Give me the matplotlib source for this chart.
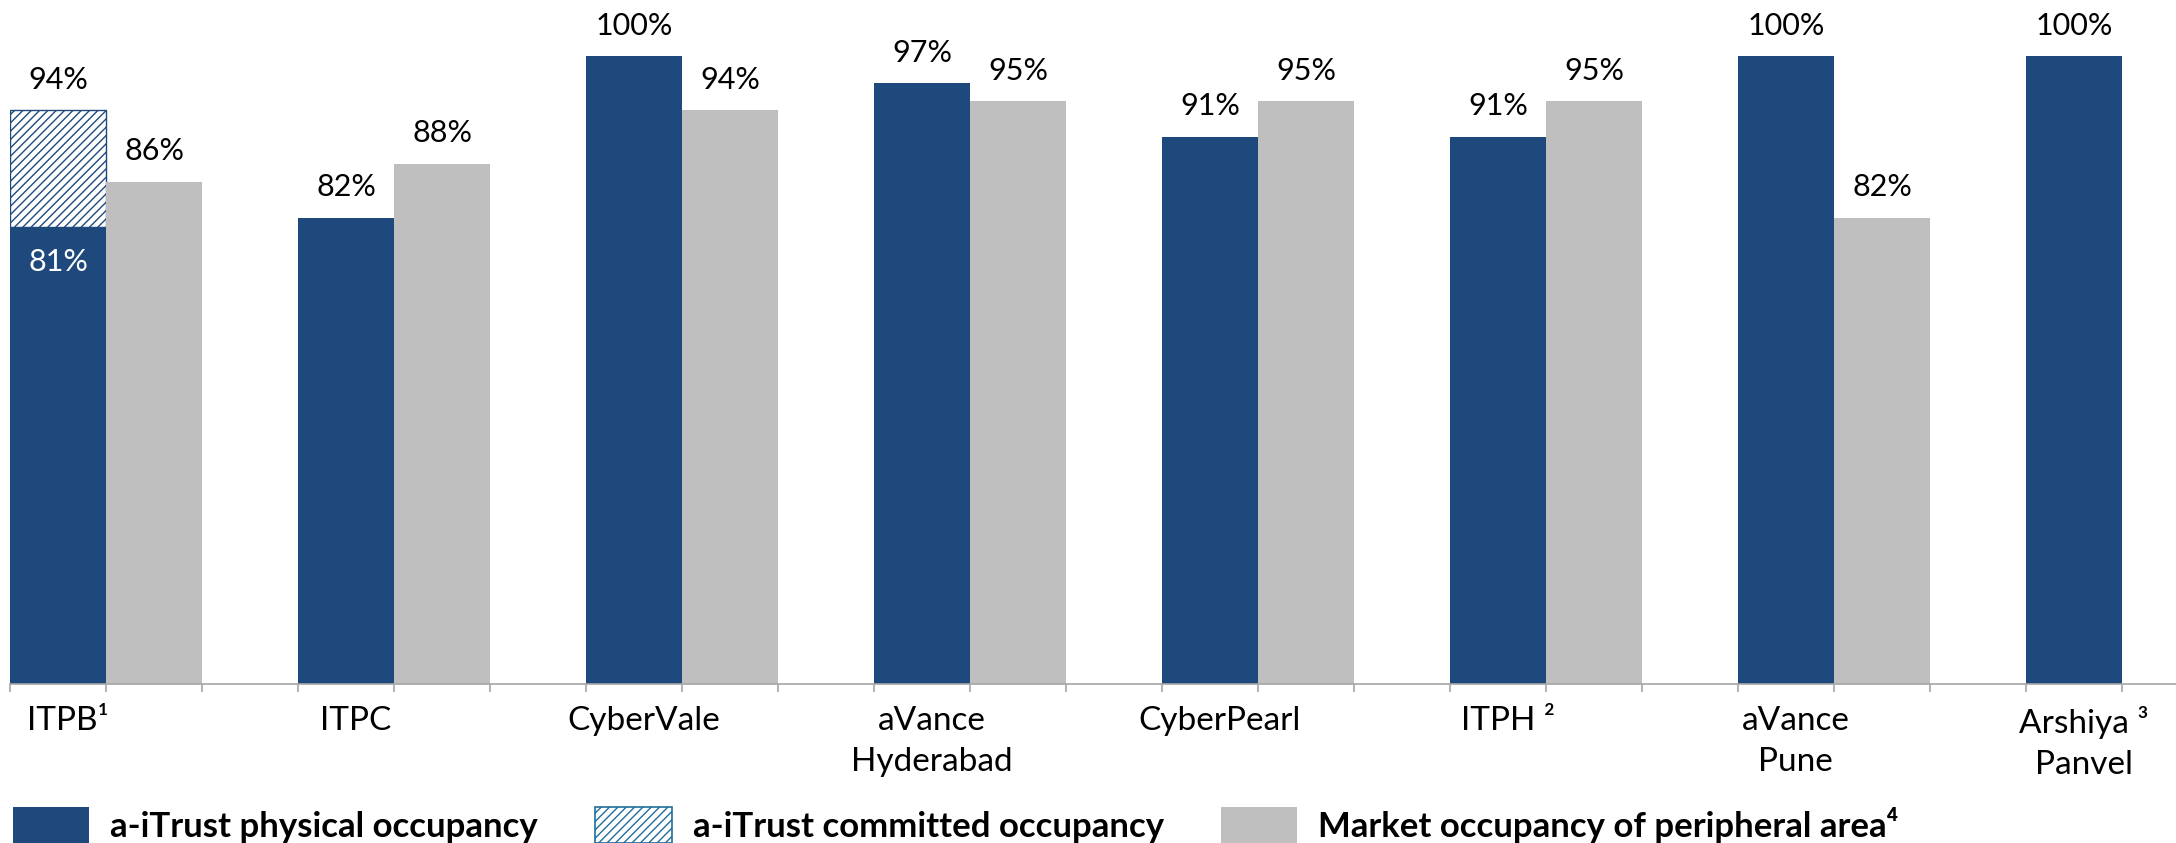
import numpy as np
import matplotlib
matplotlib.use('Agg')
import matplotlib.pyplot as plt
from matplotlib.patches import Patch

categories = ['ITPB¹', 'ITPC', 'CyberVale', 'aVance\nHyderabad', 'CyberPearl',
              'ITPH ²', 'aVance\nPune', 'Arshiya ³\nPanvel']
physical = [81, 82, 100, 97, 91, 91, 100, 100]
committed = [94, np.nan, np.nan, np.nan, np.nan, np.nan, np.nan, np.nan]
market = [86, 88, 94, 95, 95, 95, 82, np.nan]
legend_labels = ['a-iTrust physical occupancy', 'a-iTrust committed occupancy',
                 'Market occupancy of peripheral area⁴']

BLUE = '#1F497D'
GREY = '#BFBFBF'
plt.rcParams['font.family'] = ['Lato', 'DejaVu Sans']
plt.rcParams['hatch.linewidth'] = 1.0
plt.rcParams['hatch.color'] = BLUE

fig = plt.figure(figsize=(21.76, 8.43), dpi=100)
ax = fig.add_axes([10 / 2176, 159 / 843, 1 - 10 / 2176, 684 / 843])

x = np.arange(len(categories)) * 3
ax.bar(x, physical, width=1, align='edge', color=BLUE)
base = [p if not np.isnan(c) else 0 for p, c in zip(physical, committed)]
comm_h = [c - p if not np.isnan(c) else 0 for p, c in zip(physical, committed)]
ax.bar(x, comm_h, bottom=base, width=1, align='edge', facecolor='white',
       edgecolor=BLUE, hatch='////', linewidth=1.0)
ax.bar(x + 1, market, width=1, align='edge', color=GREY)

fs = 22
for xi, p, c in zip(x, physical, committed):
    if np.isnan(c):
        ax.annotate(f'{p}%', (xi + 0.5, p), xytext=(0, 12), textcoords='offset points',
                    ha='center', va='bottom', fontsize=fs)
    else:
        ax.annotate(f'{p}%', (xi + 0.5, p), xytext=(0, -15), textcoords='offset points',
                    ha='center', va='top', fontsize=fs, color='white')
        ax.annotate(f'{c:.0f}%', (xi + 0.5, c), xytext=(0, 12), textcoords='offset points',
                    ha='center', va='bottom', fontsize=fs)
for xi, m in zip(x, market):
    if not np.isnan(m):
        ax.annotate(f'{m:.0f}%', (xi + 1.5, m), xytext=(0, 12), textcoords='offset points',
                    ha='center', va='bottom', fontsize=fs)

ax.set_ylim(30, 106.3)
ax.set_xlim(0, 22.56)
ax.set_yticks([])
for s in ['left', 'right', 'top']:
    ax.spines[s].set_visible(False)
ax.spines['bottom'].set_color('#A6A6A6')
ax.spines['bottom'].set_linewidth(1.2)

ax.set_xticks(x + 0.6)
ax.set_xticklabels(categories, fontsize=24, linespacing=1.45)
ax.tick_params(axis='x', which='major', length=0, pad=16)
ax.set_xticks(np.arange(0, 23), minor=True)
ax.tick_params(axis='x', which='minor', length=6, color='#A6A6A6', width=1.2)

handles = [Patch(facecolor=BLUE),
           Patch(facecolor='white', edgecolor='#1F6E9A', hatch='////', linewidth=1.2),
           Patch(facecolor=GREY)]
fig.legend(handles, legend_labels, loc='lower left', bbox_to_anchor=(0.006, 0.0), ncol=3,
           frameon=False, prop={'weight': 'bold', 'size': 25},
           handlelength=2.2, handleheight=1.2, handletextpad=0.6, columnspacing=1.65,
           borderaxespad=0, borderpad=0)

fig.savefig('out.png', dpi=100)
